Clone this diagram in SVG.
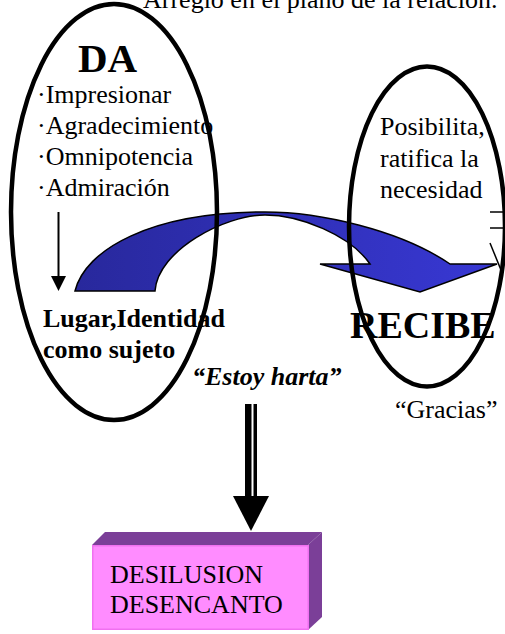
<svg xmlns="http://www.w3.org/2000/svg" width="505" height="634" viewBox="0 0 505 634">
<style>
.t{font-family:"Liberation Serif","Times New Roman",serif;font-size:26px;fill:#000}
.b{font-weight:bold}
.ell{fill:none;stroke:#000;stroke-width:4.5}
.thin{stroke:#000;stroke-width:1.5;fill:none}
</style>
<defs>
<linearGradient id="blueGrad" gradientUnits="userSpaceOnUse" x1="75" y1="0" x2="497" y2="0">
<stop offset="0" stop-color="#28289c"/>
<stop offset="1" stop-color="#3838d4"/>
</linearGradient>
</defs>
<rect width="505" height="634" fill="#fff"/>
<text class="t" x="143" y="8">Arreglo en el plano de la relación.</text>

<g id="connectors">
<path d="M75,291 C85,250 150,212 265,212 C320,212 400,230 450,264 L497,264 L420,292 L320,264 L370,264 C350,235 300,215 265,215 C225,215 158,250 155,291 Z" fill="url(#blueGrad)" stroke="#000" stroke-width="1.5"/>
<line x1="58.5" y1="212" x2="58.5" y2="278" stroke="#000" stroke-width="2"/>
<polygon points="51,276 66,276 58.5,291" fill="#000"/>
<rect x="245" y="404" width="6.5" height="94" fill="#000"/>
<rect x="253.5" y="404" width="3.5" height="94" fill="#000"/>
<polygon points="233,496 269,496 251,531" fill="#000"/>
<line x1="490" y1="212" x2="505" y2="212" class="thin"/>
<line x1="490" y1="228" x2="505" y2="228" class="thin"/>
<line x1="490" y1="243" x2="501" y2="270" class="thin"/>
</g>

<g id="node-da">
<text class="t b" x="107.5" y="72" text-anchor="middle" style="font-size:41px">DA</text>
<text class="t" x="37" y="103">·Impresionar</text>
<text class="t" x="37" y="134">·Agradecimiento</text>
<text class="t" x="37" y="165">·Omnipotencia</text>
<text class="t" x="37" y="196">·Admiración</text>
<text class="t b" x="43" y="327">Lugar,Identidad</text>
<text class="t b" x="43" y="358">como sujeto</text>
<ellipse class="ell" cx="114" cy="212" rx="103" ry="208"/>
</g>

<g id="node-recibe">
<text class="t" x="380" y="135">Posibilita,</text>
<text class="t" x="380" y="167">ratifica la</text>
<text class="t" x="380" y="198">necesidad</text>
<text class="t b" x="350" y="338" style="font-size:38px">RECIBE</text>
<ellipse class="ell" cx="427" cy="226.5" rx="78" ry="160"/>
</g>

<g id="label-estoy">
<text class="t b" x="192" y="385" style="font-style:italic">“Estoy harta”</text>
</g>
<g id="label-gracias">
<text class="t" x="395" y="418">“Gracias”</text>
</g>

<g id="node-desilusion">
<polygon points="92,545 105,532 322,532 308,545" fill="#7b3f98"/>
<polygon points="308,545 322,532 322,617 308,630" fill="#7b3f98"/>
<rect x="92.75" y="545.75" width="215.5" height="83.5" fill="#ff8cff" stroke="#f070f0" stroke-width="1.5"/>
<text class="t" x="110" y="583">DESILUSION</text>
<text class="t" x="110" y="613">DESENCANTO</text>
</g>
</svg>
